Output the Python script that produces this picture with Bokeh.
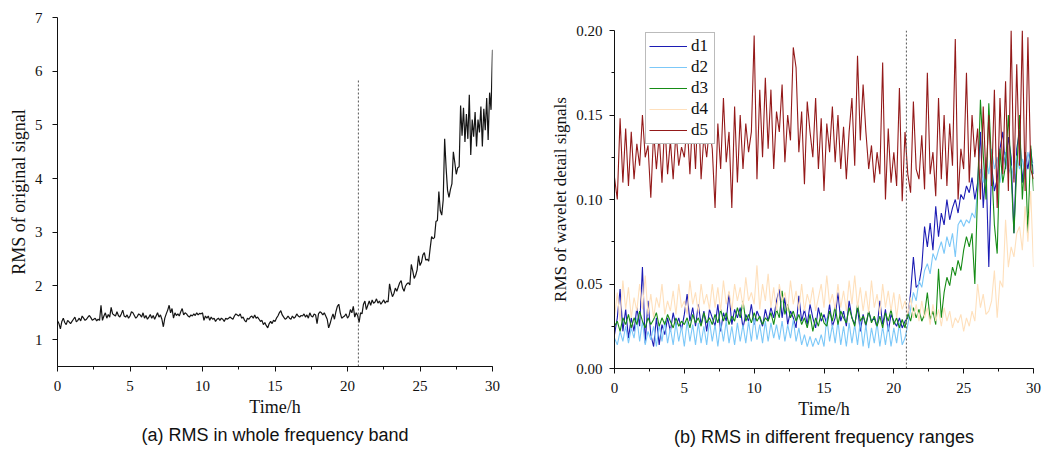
import numpy as np
from bokeh.plotting import figure
from bokeh.layouts import row, column
from bokeh.models import Range1d, Title, Legend, LegendItem, SingleIntervalTicker, FixedTicker, PrintfTickFormatter
from bokeh.embed import file_html
from bokeh.resources import INLINE

# ---------------- data ----------------
# (a) RMS of the original signal, sampled every 0.1 h
rms_whole = [
    1.35, 1.30, 1.20, 1.34, 1.40, 1.32, 1.28, 1.36, 1.33, 1.30,
    1.34, 1.38, 1.42, 1.33, 1.36, 1.40, 1.35, 1.44, 1.40, 1.36,
    1.38, 1.42, 1.45, 1.41, 1.36, 1.38, 1.40, 1.35, 1.38, 1.36,
    1.64, 1.36, 1.44, 1.50, 1.40, 1.47, 1.42, 1.60, 1.48, 1.46,
    1.44, 1.52, 1.45, 1.42, 1.48, 1.55, 1.44, 1.42, 1.46, 1.40,
    1.44, 1.52, 1.50, 1.45, 1.40, 1.43, 1.48, 1.46, 1.42, 1.50,
    1.40, 1.45, 1.38, 1.42, 1.47, 1.40, 1.45, 1.38, 1.44, 1.50,
    1.42, 1.46, 1.38, 1.24, 1.40, 1.48, 1.55, 1.64, 1.50, 1.58,
    1.40, 1.50, 1.45, 1.48, 1.44, 1.52, 1.58, 1.46, 1.50, 1.48,
    1.44, 1.42, 1.46, 1.44, 1.48, 1.45, 1.50, 1.46, 1.49, 1.48,
    1.50, 1.36, 1.44, 1.40, 1.44, 1.36, 1.42, 1.38, 1.40, 1.34,
    1.38, 1.40, 1.36, 1.40, 1.38, 1.34, 1.40, 1.38, 1.40, 1.42,
    1.40, 1.38, 1.44, 1.48, 1.46, 1.44, 1.48, 1.40, 1.42, 1.36,
    1.33, 1.40, 1.38, 1.42, 1.44, 1.40, 1.46, 1.40, 1.42, 1.38,
    1.34, 1.36, 1.28, 1.32, 1.26, 1.22, 1.30, 1.34, 1.30, 1.36,
    1.34, 1.40, 1.44, 1.50, 1.54, 1.46, 1.42, 1.38, 1.40, 1.44,
    1.40, 1.38, 1.44, 1.40, 1.42, 1.48, 1.44, 1.42, 1.45, 1.44,
    1.48, 1.42, 1.46, 1.40, 1.50, 1.44, 1.42, 1.48, 1.46, 1.30,
    1.48, 1.52, 1.50, 1.46, 1.50, 1.44, 1.38, 1.22, 1.30, 1.40,
    1.48, 1.38, 1.52, 1.62, 1.66, 1.50, 1.40, 1.42, 1.44, 1.48,
    1.40, 1.44, 1.56, 1.50, 1.62, 1.42, 1.50, 1.45, 1.32, 1.50,
    1.48, 1.66, 1.72, 1.56, 1.64, 1.72, 1.64, 1.74, 1.68, 1.70,
    1.76, 1.68, 1.72, 1.66, 1.70, 1.74, 1.68, 1.72, 1.70, 2.04,
    1.90, 1.80, 1.86, 1.96, 1.90, 1.98, 2.06, 2.10, 1.96, 1.90,
    2.00, 2.04, 2.06, 2.02, 2.40, 2.28, 2.14, 2.20, 2.30, 2.56,
    2.38, 2.44, 2.58, 2.62, 2.48, 2.50, 2.46, 2.70, 2.92, 2.88,
    2.90, 3.20, 3.22, 3.76, 3.40, 3.32, 3.60, 4.74, 4.20, 3.78,
    3.65, 3.80, 3.90, 4.50, 4.30, 4.08, 4.20, 4.22, 5.36, 4.80,
    5.32, 4.68, 5.20, 4.74, 5.56, 4.44, 5.10, 4.78, 5.24, 4.60,
    5.10, 4.86, 5.34, 4.60, 5.30, 4.90, 5.50, 4.72, 5.60, 5.28,
    6.40,
]
step_a = 0.1
onset_a = 20.75
onset_a_top = 5.85

# (b) RMS of wavelet detail signals, sampled every 0.2 h
d1 = [
    0.020, 0.030, 0.047, 0.022, 0.035,
    0.018, 0.030, 0.022, 0.036, 0.025,
    0.060, 0.015, 0.040, 0.020, 0.013,
    0.030, 0.014, 0.026, 0.020, 0.030,
    0.022, 0.033, 0.025, 0.030, 0.023,
    0.032, 0.044, 0.028, 0.036, 0.025,
    0.038, 0.026, 0.034, 0.022, 0.035,
    0.030, 0.025, 0.038, 0.022, 0.033,
    0.028, 0.045, 0.026, 0.035, 0.030,
    0.036, 0.024, 0.032, 0.028, 0.038,
    0.026, 0.034, 0.030, 0.025, 0.035,
    0.028, 0.036, 0.030, 0.040, 0.047,
    0.030, 0.042, 0.026, 0.034, 0.030,
    0.024, 0.043, 0.028, 0.035, 0.026,
    0.038, 0.030, 0.024, 0.036, 0.028,
    0.032, 0.026, 0.038, 0.025, 0.030,
    0.045, 0.028, 0.034, 0.025, 0.040,
    0.030, 0.026, 0.036, 0.022, 0.032,
    0.025, 0.034, 0.028, 0.030, 0.024,
    0.040, 0.026, 0.035, 0.022, 0.032,
    0.028, 0.025, 0.030, 0.024, 0.028,
    0.030, 0.045, 0.066, 0.048, 0.050,
    0.060, 0.084, 0.072, 0.086, 0.070,
    0.096, 0.078, 0.092, 0.085, 0.100,
    0.088, 0.095, 0.100, 0.092, 0.103,
    0.100, 0.108, 0.104, 0.113, 0.100,
    0.110, 0.140, 0.095, 0.120, 0.060,
    0.120, 0.105, 0.112, 0.130, 0.140,
    0.118, 0.137, 0.125, 0.080, 0.130,
    0.141, 0.110, 0.128, 0.118, 0.130,
    0.115,
]
d2 = [
    0.018, 0.014, 0.022, 0.016, 0.025,
    0.015, 0.024, 0.018, 0.030, 0.016,
    0.028, 0.014, 0.022, 0.017, 0.025,
    0.013, 0.026, 0.016, 0.028, 0.015,
    0.024, 0.014, 0.027, 0.016, 0.025,
    0.013, 0.028, 0.016, 0.026, 0.014,
    0.027, 0.015, 0.025, 0.014, 0.028,
    0.016, 0.026, 0.013, 0.027, 0.016,
    0.028, 0.015, 0.025, 0.014, 0.027,
    0.016, 0.026, 0.015, 0.028, 0.016,
    0.030, 0.017, 0.026, 0.015, 0.028,
    0.016, 0.027, 0.018, 0.026, 0.017,
    0.028, 0.016, 0.026, 0.018, 0.029,
    0.016, 0.024, 0.014, 0.020, 0.013,
    0.019, 0.013, 0.018, 0.014, 0.020,
    0.013, 0.030, 0.016, 0.026, 0.015,
    0.028, 0.014, 0.025, 0.013, 0.027,
    0.015, 0.026, 0.014, 0.028, 0.013,
    0.026, 0.012, 0.024, 0.015, 0.027,
    0.013, 0.025, 0.014, 0.026, 0.013,
    0.024, 0.015, 0.027, 0.014, 0.018,
    0.026, 0.035, 0.045, 0.040, 0.052,
    0.048, 0.058, 0.062, 0.056, 0.068,
    0.064, 0.070, 0.075, 0.068, 0.078,
    0.072, 0.080, 0.066, 0.085, 0.088,
    0.084, 0.088, 0.086, 0.092, 0.089,
    0.105, 0.118, 0.110, 0.125, 0.115,
    0.130, 0.118, 0.125, 0.110, 0.122,
    0.128, 0.115, 0.120, 0.112, 0.126,
    0.118, 0.124, 0.112, 0.128, 0.120,
    0.122,
]
d3 = [
    0.025, 0.028, 0.022, 0.030, 0.026,
    0.032, 0.024, 0.030, 0.026, 0.034,
    0.028, 0.024, 0.030, 0.026, 0.029,
    0.033, 0.025, 0.030, 0.026, 0.032,
    0.028, 0.024, 0.030, 0.025, 0.028,
    0.026, 0.030, 0.024, 0.032, 0.027,
    0.030, 0.025, 0.033, 0.027, 0.030,
    0.026, 0.032, 0.027, 0.035, 0.028,
    0.033, 0.026, 0.031, 0.028, 0.036,
    0.030, 0.040, 0.028, 0.032, 0.027,
    0.033, 0.028, 0.031, 0.026, 0.030,
    0.028, 0.033, 0.026, 0.035, 0.030,
    0.046, 0.032, 0.038, 0.030, 0.034,
    0.028, 0.032, 0.026, 0.030, 0.024,
    0.032, 0.022, 0.030, 0.025, 0.033,
    0.027, 0.025, 0.034, 0.028, 0.037,
    0.026, 0.034, 0.030, 0.027, 0.036,
    0.030, 0.025, 0.038, 0.028, 0.031,
    0.026, 0.034, 0.027, 0.031, 0.025,
    0.031, 0.024, 0.033, 0.028, 0.035,
    0.026, 0.030, 0.024, 0.029, 0.024,
    0.033, 0.028, 0.036, 0.030, 0.035,
    0.028, 0.032, 0.045, 0.029, 0.034,
    0.026, 0.059, 0.030, 0.045, 0.054,
    0.049, 0.060, 0.055, 0.064, 0.058,
    0.070, 0.078, 0.072, 0.080, 0.050,
    0.105, 0.159, 0.127, 0.100, 0.157,
    0.120, 0.085, 0.068, 0.130, 0.110,
    0.120, 0.150, 0.115, 0.080, 0.118,
    0.150, 0.100, 0.128, 0.080, 0.132,
    0.105,
]
d4 = [
    0.030, 0.045, 0.028, 0.052, 0.035,
    0.048, 0.030, 0.042, 0.034, 0.050,
    0.035, 0.055, 0.032, 0.044, 0.030,
    0.042, 0.036, 0.050, 0.032, 0.040,
    0.034, 0.046, 0.032, 0.050, 0.036,
    0.040, 0.032, 0.052, 0.038, 0.045,
    0.033, 0.050, 0.038, 0.044, 0.035,
    0.050, 0.036, 0.048, 0.034, 0.052,
    0.038, 0.046, 0.034, 0.050, 0.040,
    0.048, 0.036, 0.054, 0.040, 0.045,
    0.038, 0.061, 0.035, 0.050, 0.040,
    0.056, 0.036, 0.048, 0.034, 0.050,
    0.040, 0.045, 0.034, 0.052, 0.038,
    0.046, 0.035, 0.050, 0.034, 0.044,
    0.038, 0.048, 0.034, 0.042, 0.050,
    0.036, 0.055, 0.038, 0.044, 0.035,
    0.050, 0.036, 0.046, 0.034, 0.052,
    0.038, 0.055, 0.036, 0.048, 0.034,
    0.046, 0.033, 0.052, 0.036, 0.044,
    0.032, 0.050, 0.036, 0.046, 0.034,
    0.045, 0.030, 0.044, 0.035, 0.040,
    0.032, 0.042, 0.030, 0.038, 0.028,
    0.040, 0.030, 0.036, 0.026, 0.038,
    0.028, 0.035, 0.025, 0.036, 0.028,
    0.034, 0.024, 0.030, 0.027, 0.032,
    0.022, 0.030, 0.025, 0.034, 0.028,
    0.050, 0.036, 0.044, 0.032, 0.034,
    0.040, 0.058, 0.030, 0.052, 0.048,
    0.088, 0.060, 0.072, 0.066, 0.080,
    0.084, 0.070, 0.096, 0.075, 0.105,
    0.060,
]
d5 = [
    0.113, 0.100, 0.148, 0.110, 0.142,
    0.108, 0.140, 0.112, 0.133, 0.120,
    0.150, 0.125, 0.132, 0.101, 0.140,
    0.118, 0.138, 0.110, 0.146, 0.115,
    0.135, 0.112, 0.140, 0.120, 0.131,
    0.125, 0.145, 0.115, 0.150, 0.118,
    0.160, 0.112, 0.138, 0.125, 0.143,
    0.130, 0.095, 0.145, 0.118, 0.160,
    0.122, 0.140, 0.095, 0.155, 0.110,
    0.150, 0.118, 0.145, 0.128, 0.140,
    0.197, 0.112, 0.165, 0.125, 0.172,
    0.130, 0.165, 0.118, 0.152, 0.140,
    0.168, 0.122, 0.150, 0.135, 0.190,
    0.178, 0.128, 0.152, 0.109, 0.158,
    0.140, 0.125, 0.160, 0.118, 0.148,
    0.105, 0.145, 0.128, 0.155, 0.122,
    0.150, 0.118, 0.143, 0.112, 0.140,
    0.160, 0.120, 0.185, 0.135, 0.168,
    0.140, 0.118, 0.132, 0.110, 0.128,
    0.115, 0.181, 0.100, 0.142, 0.110,
    0.128, 0.108, 0.166, 0.099, 0.140,
    0.115, 0.104, 0.158, 0.118, 0.112,
    0.138, 0.106, 0.175, 0.115, 0.128,
    0.102, 0.160, 0.112, 0.150, 0.108,
    0.145, 0.120, 0.195, 0.100, 0.130,
    0.118, 0.175, 0.110, 0.150, 0.125,
    0.142, 0.100, 0.155, 0.112, 0.150,
    0.108, 0.165, 0.095, 0.160, 0.115,
    0.170, 0.105, 0.200, 0.110, 0.180,
    0.120, 0.200, 0.105, 0.196, 0.118,
    0.112,
]
step_b = 0.2
onset_b = 20.9
onset_b_top = 0.21

series_names = ["d1", "d2", "d3", "d4", "d5"]
series_values = [d1, d2, d3, d4, d5]
series_colors = ["#1c1cb4", "#7cc8f8", "#168c16", "#ffe0bc", "#941a1a"]

caption_a = "(a) RMS in whole frequency band"
caption_b = "(b) RMS in different frequency ranges"

SERIF = "Liberation Serif"
SANS = "Liberation Sans"


def style_axes(p):
    for ax in (p.xaxis[0], p.yaxis[0]):
        ax.axis_line_color = "#111111"
        ax.axis_line_width = 1
        ax.major_tick_line_color = "#111111"
        ax.minor_tick_line_color = "#111111"
        ax.major_tick_in = 0
        ax.major_tick_out = 5
        ax.minor_tick_in = 0
        ax.minor_tick_out = 3
        ax.major_label_text_font = SERIF
        ax.major_label_text_font_size = "15px"
        ax.major_label_text_color = "#111111"
        ax.axis_label_text_font = SERIF
        ax.axis_label_text_font_size = "18px"
        ax.axis_label_text_font_style = "normal"
        ax.axis_label_text_color = "#111111"
    p.xgrid.visible = False
    p.ygrid.visible = False
    p.outline_line_color = None
    p.xaxis.ticker = SingleIntervalTicker(interval=5, num_minor_ticks=2)
    p.xaxis.axis_label = "Time/h"
    p.xaxis.major_label_standoff = 9
    p.xaxis.axis_label_standoff = 3


# ---------------- (a) ----------------
p1 = figure(frame_width=435, frame_height=349,
            x_range=Range1d(0, 30), y_range=Range1d(0.5, 7),
            output_backend="svg", toolbar_location=None,
            min_border_left=57, min_border_right=52, min_border_top=17, min_border_bottom=10)
style_axes(p1)
p1.yaxis.ticker = FixedTicker(ticks=[1, 2, 3, 4, 5, 6, 7])
p1.yaxis.axis_label = "RMS of original signal"
p1.yaxis.major_label_standoff = 10
p1.yaxis.axis_label_standoff = 3

t_a = np.arange(len(rms_whole)) * step_a
p1.line(t_a, rms_whole, line_color="#151515", line_width=1.2)
p1.segment(x0=[onset_a], y0=[0.5], x1=[onset_a], y1=[onset_a_top],
           line_color="#555555", line_width=1, line_dash="2 2")
cap1 = Title(text=caption_a, align="center", text_font=SANS, text_font_size="18px",
             text_font_style="normal", text_color="#111111", standoff=6)
p1.add_layout(cap1, "below")

# ---------------- (b) ----------------
p2 = figure(frame_width=419, frame_height=338,
            x_range=Range1d(0, 30), y_range=Range1d(0, 0.2),
            output_backend="svg", toolbar_location=None,
            min_border_left=70, min_border_right=10, min_border_top=30, min_border_bottom=10)
style_axes(p2)
p2.yaxis.ticker = FixedTicker(ticks=[0, 0.05, 0.10, 0.15, 0.20],
                              minor_ticks=[0.025, 0.075, 0.125, 0.175])
p2.yaxis.formatter = PrintfTickFormatter(format="%.2f")
p2.yaxis.axis_label = "RMS of wavelet detail signals"
p2.yaxis.axis_label_text_font_size = "17px"
p2.yaxis.major_label_standoff = 7
p2.yaxis.axis_label_standoff = 3

items = []
for name, vals, col in zip(series_names, series_values, series_colors):
    t_b = np.arange(len(vals)) * step_b
    r = p2.line(t_b, vals, line_color=col, line_width=1.1)
    items.append(LegendItem(label=name, renderers=[r]))

p2.segment(x0=[onset_b], y0=[0], x1=[onset_b], y1=[onset_b_top],
           line_color="#555555", line_width=1, line_dash="2 2")

legend = Legend(items=items, location=(31, 224),
                label_text_font=SERIF, label_text_font_size="17px", label_text_color="#111111",
                glyph_width=38, glyph_height=20, label_height=20, spacing=1,
                padding=3, margin=0, label_standoff=4,
                border_line_color="#777777", border_line_width=1,
                background_fill_color="white", background_fill_alpha=1)
p2.add_layout(legend)

cap2 = Title(text=caption_b, align="center", text_font=SANS, text_font_size="18px",
             text_font_style="normal", text_color="#111111", standoff=6)
p2.add_layout(cap2, "below")

layout = row(column(p1), column(p2))
open("out.html", "w").write(file_html(layout, INLINE))
